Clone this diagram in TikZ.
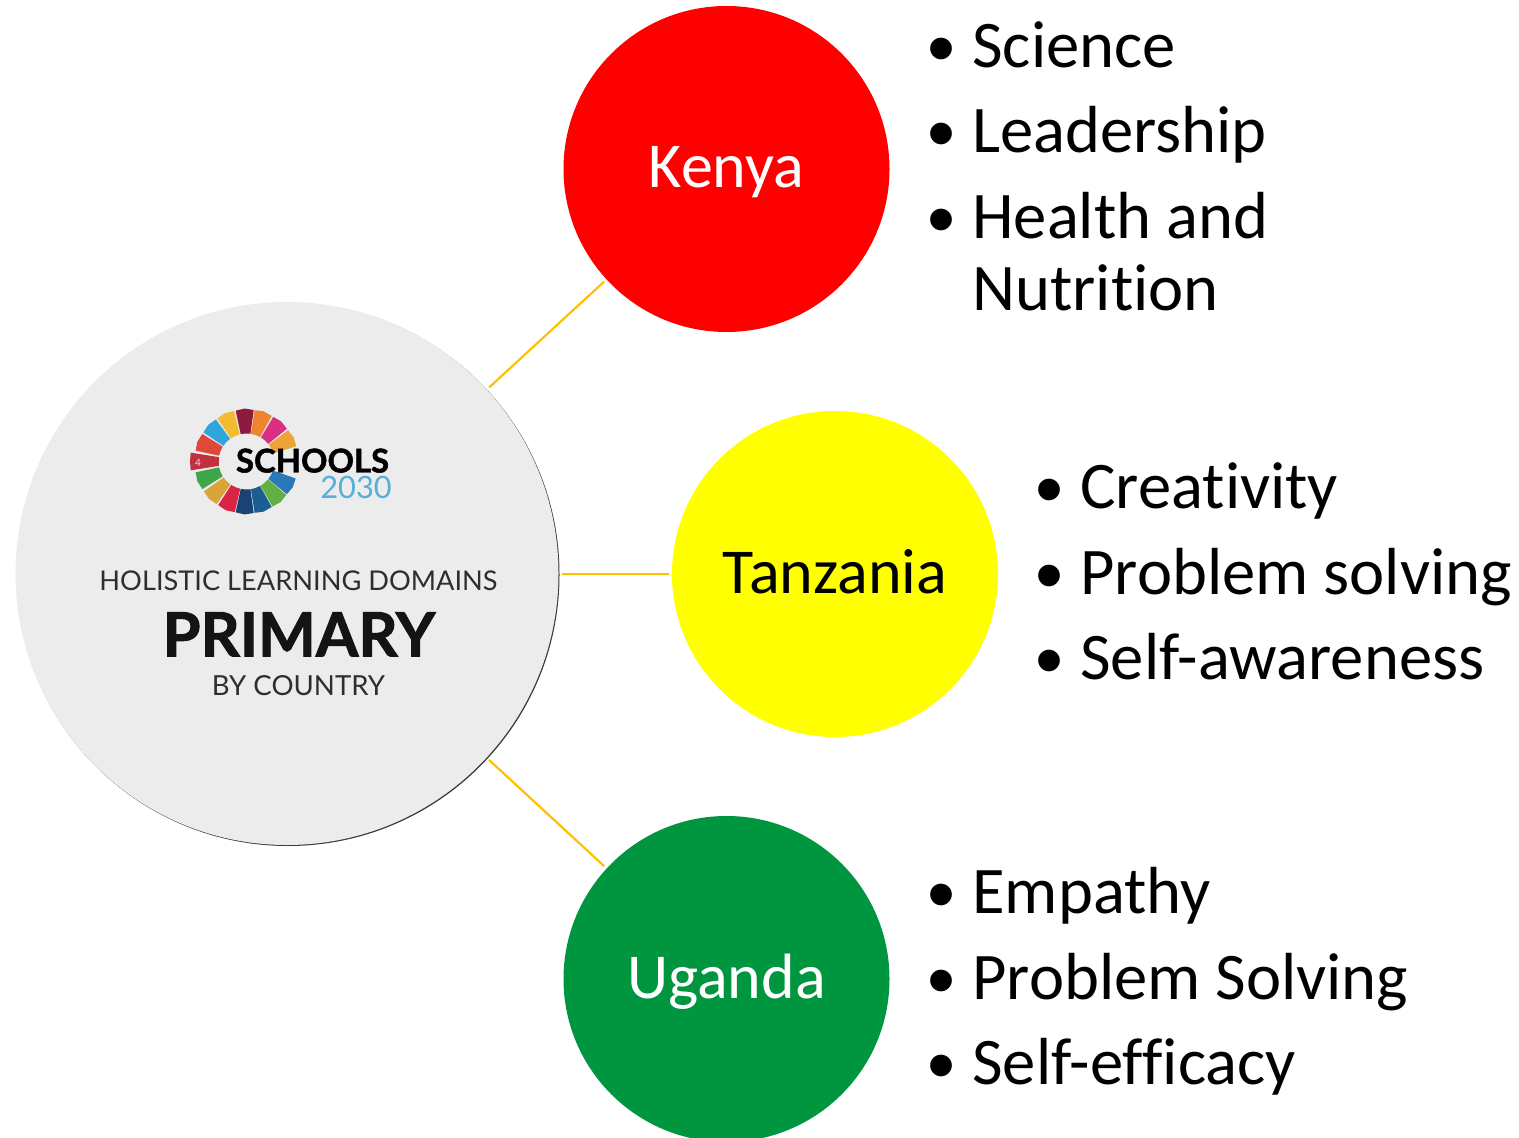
\documentclass[tikz,border=0pt]{standalone}
\usepackage{fontspec}
\setmainfont{Carlito}[Ligatures=NoCommon]
\newfontfamily\logofont{Lato}
\newfontfamily\logoheavy{Lato}[BoldFeatures={FakeBold=1.5}]
\newfontfamily\bulfont{Liberation Sans}
\definecolor{kenyared}{HTML}{FF0000}
\definecolor{tanyellow}{HTML}{FFFF00}
\definecolor{ugagreen}{HTML}{009640}
\definecolor{linkgold}{HTML}{FFC000}
\definecolor{discgrey}{HTML}{ECECEC}
\definecolor{discedge}{HTML}{3C3836}
\definecolor{logotext}{HTML}{2E2E2E}
\definecolor{sky}{HTML}{55AFD8}
\definecolor{sa}{HTML}{C0303F}
\definecolor{sb}{HTML}{E0483A}
\definecolor{sc}{HTML}{2EA6DC}
\definecolor{sd}{HTML}{F2BC2E}
\definecolor{se}{HTML}{8E1B3D}
\definecolor{sf}{HTML}{EE8430}
\definecolor{sg}{HTML}{DB2F83}
\definecolor{sh}{HTML}{EDA33A}
\definecolor{si}{HTML}{2A78B8}
\definecolor{sj}{HTML}{62B042}
\definecolor{sk}{HTML}{1B5E94}
\definecolor{sl}{HTML}{1A4272}
\definecolor{sm}{HTML}{D92545}
\definecolor{sn}{HTML}{D9A43A}
\definecolor{so}{HTML}{3FA548}
\newcommand{\bul}{\llap{\raisebox{-4pt}{\bulfont\fontsize{40}{40}\selectfont •}\hspace{8.5pt}}}
\tikzset{
  x=0.5pt,y=-0.5pt,
  country/.style={circle,minimum size=163pt,inner sep=0pt,text height=20pt,text depth=1pt,font=\fontsize{32}{32}\selectfont},
  item/.style={anchor=base west,inner sep=0pt,font=\fontsize{33.3}{33.3}\selectfont},
  link/.style={draw=linkgold,line width=1.1pt,shorten <=1.5pt,shorten >=1.5pt},
  disc/.style={circle,minimum size=271.5pt,inner sep=0pt,fill=discgrey},
  logo/.style={inner sep=0pt,text=logotext,anchor=base},
}
\begin{document}
\begin{tikzpicture}
\useasboundingbox (0,0) rectangle (1519,1138);
\clip (0,0) rectangle (1519,1138);
\fill[discedge] (288,574.5) circle[radius=135.75pt];
\node[disc] (hub) at (287,573.5) {};
\node[country,fill=kenyared,text=white] (kenya) at (726.5,169) {Kenya};
\node[country,fill=tanyellow,text=black] (tanzania) at (835,574) {Tanzania};
\node[country,fill=ugagreen,text=white] (uganda) at (726.5,979) {Uganda};
\draw[link] (hub) -- (kenya);
\draw[link] (hub.east |- tanzania.west) -- (tanzania);
\draw[link] (hub) -- (uganda);
% wheel logo
\begin{scope}[shift={(246.5,461.5)}]
\foreach \a/\c in {158/sb,136/sc,114/sd,92/se,71/sf,49/sg,27/sh,-29/si,-50/sj,-71/sk,-92/sl,-113/sm,-135/sn,-158/so}{
  \fill[\c] (-\a-10:28) -- (-\a-10:52) -- (-\a:53) -- (-\a+10:52) -- (-\a+10:28) -- (-\a:28) -- cycle;
}
\fill[sa] (-171:28) -- (-171:56.5) -- (180:56.5) -- (171:56.5) -- (171:28) -- cycle;
\end{scope}
\node[inner sep=0pt,text=white!80!sa,font=\logofont\fontsize{5}{5}\selectfont] (four) at (198,463) {4};
\node[logo,text=black,font=\logoheavy\bfseries\fontsize{16.4}{16.4}\selectfont] (schools) at (312.5,472.5) {SCHOOLS};
\node[logo,text=sky,font=\logofont\fontsize{15.4}{15.4}\selectfont] (y2030) at (356,499) {2030};
\node[logo,font=\logofont\fontsize{13.6}{13.6}\selectfont] (hld) at (298.5,590.5) {HOLISTIC LEARNING DOMAINS};
\node[logo,text=black!92,font=\logoheavy\bfseries\fontsize{30.6}{30.6}\selectfont] (primary) at (299,656.5) {PRIMARY};
\node[logo,font=\logofont\fontsize{13.8}{13.8}\selectfont] (byc) at (298.5,695.5) {BY COUNTRY};
% lists
\node[item] (k1) at (972,68) {\bul Science};
\node[item] (k2) at (972,152.5) {\bul Leadership};
\node[item] (k3) at (972,238.5) {\bul Health and};
\node[item] (k4) at (972,310.5) {Nutrition};
\node[item] (t1) at (1080,509) {\bul Creativity};
\node[item] (t2) at (1080,594) {\bul Problem solving};
\node[item] (t3) at (1080,679.5) {\bul Self-awareness};
\node[item] (u1) at (972,913.5) {\bul Empathy};
\node[item] (u2) at (972,999) {\bul Problem Solving};
\node[item] (u3) at (972,1084.5) {\bul Self-efficacy};
\end{tikzpicture}
\end{document}
